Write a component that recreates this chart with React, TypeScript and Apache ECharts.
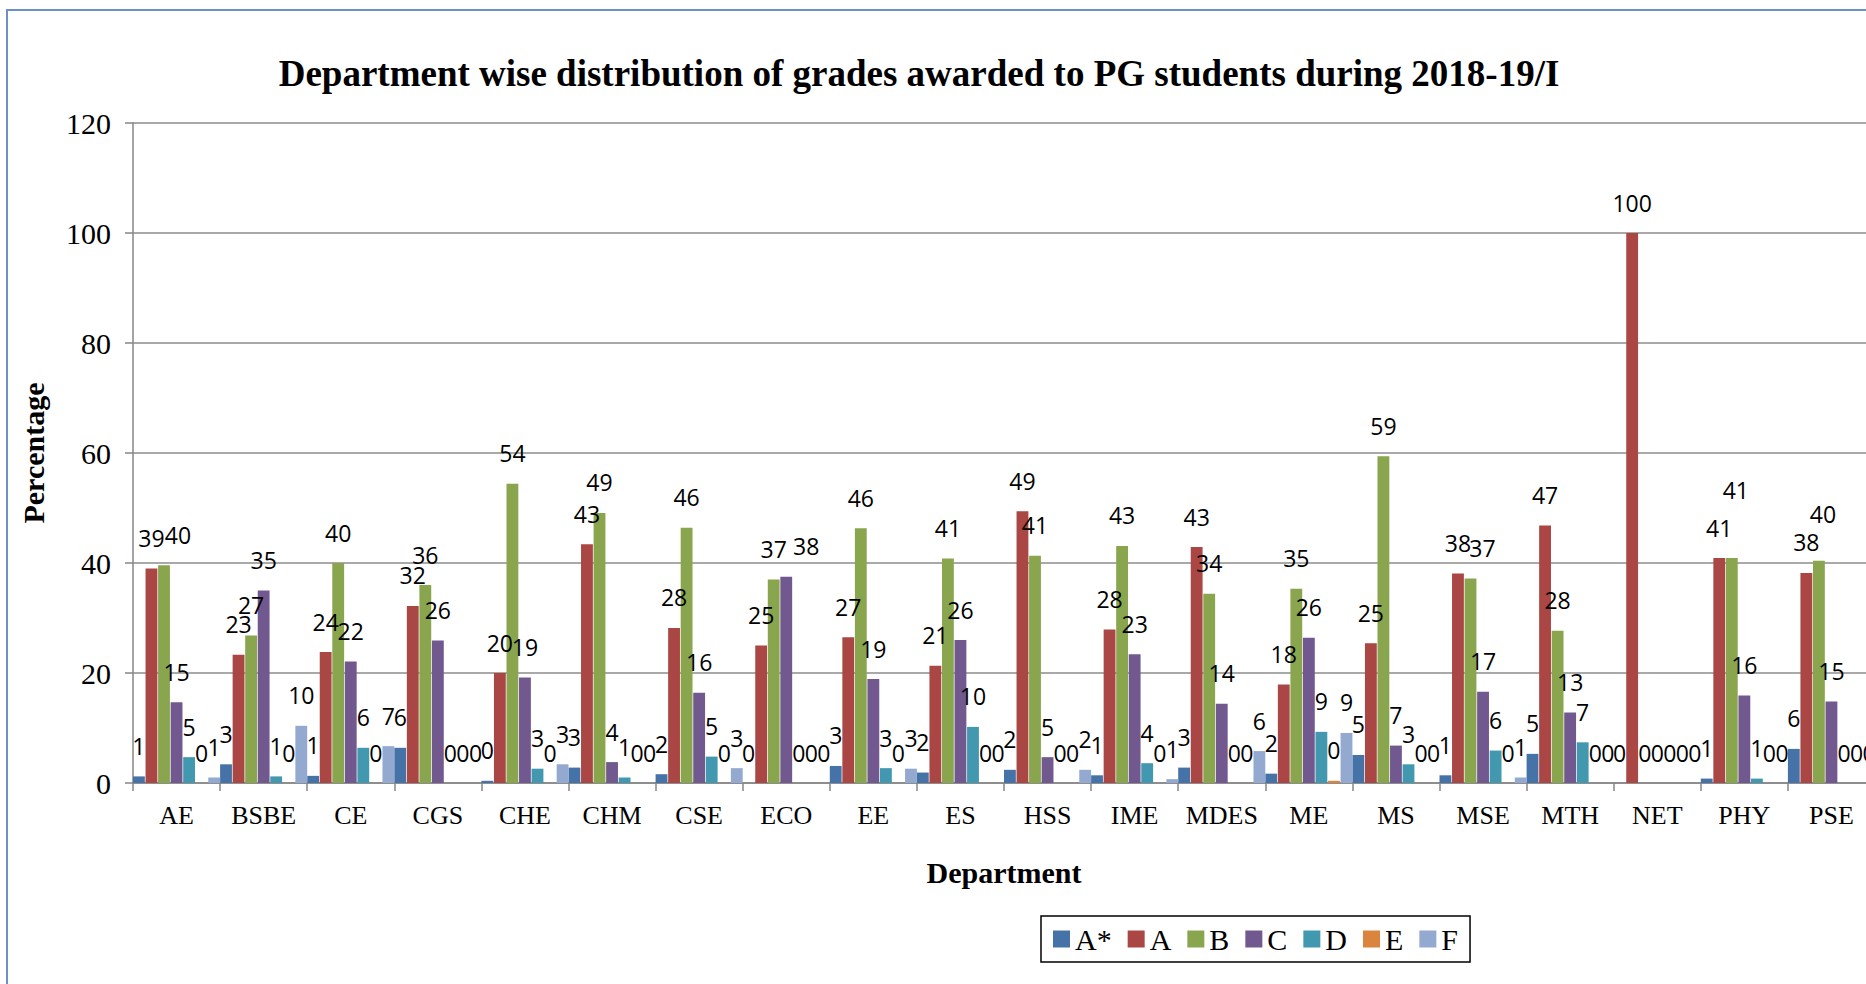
import React, { useEffect, useRef } from "react";
import * as echarts from "echarts";

const departments = ["AE", "BSBE", "CE", "CGS", "CHE", "CHM", "CSE", "ECO", "EE", "ES", "HSS", "IME", "MDES", "ME", "MS", "MSE", "MTH", "NET", "PHY", "PSE"];
const gradeNames = ["A*", "A", "B", "C", "D", "E", "F"];
const gradeAStar = [1.2, 3.4, 1.3, 6.4, 0.4, 2.8, 1.6, 0, 3.1, 1.9, 2.4, 1.4, 2.8, 1.7, 5.1, 1.4, 5.3, 0, 0.8, 6.2];
const gradeA = [39.0, 23.3, 23.8, 32.2, 20.0, 43.4, 28.2, 25.0, 26.5, 21.3, 49.4, 27.9, 42.9, 17.9, 25.4, 38.1, 46.8, 100, 40.9, 38.2];
const gradeB = [39.6, 26.8, 40.0, 36.0, 54.4, 49.1, 46.4, 37.0, 46.3, 40.8, 41.3, 43.1, 34.4, 35.3, 59.4, 37.2, 27.7, 0, 40.9, 40.4];
const gradeC = [14.7, 35.0, 22.1, 25.9, 19.2, 3.8, 16.4, 37.5, 18.9, 26.0, 4.7, 23.4, 14.4, 26.4, 6.8, 16.6, 12.8, 0, 15.9, 14.8];
const gradeD = [4.7, 1.2, 6.4, 0, 2.6, 1.0, 4.8, 0, 2.7, 10.2, 0, 3.6, 0, 9.3, 3.4, 5.9, 7.4, 0, 0.8, 0];
const gradeE = [0, 0, 0, 0, 0, 0, 0, 0, 0, 0, 0, 0, 0, 0.4, 0, 0, 0, 0, 0, 0];
const gradeF = [1.0, 10.4, 6.7, 0, 3.4, 0, 2.7, 0, 2.6, 0, 2.4, 0.7, 5.8, 9.1, 0, 1.0, 0, 0, 0, 0];
const yTicks = { min: 0, max: 120, interval: 20 };

const colors = ["#4572A7", "#AA4643", "#89A54E", "#71588F", "#4198AF", "#DB843D", "#93A9CF"];
const serif = "'Liberation Serif', 'Times New Roman', serif";
const sans = "'Open Sans', 'Noto Sans', sans-serif";

// label nudges that mimic the reference's label collision handling
const labelShifts = [
  { grade: "B", dept: "AE", dx: 14, dy: 0 },
  { grade: "C", dept: "ECO", dx: 20, dy: 0 },
  { grade: "B", dept: "MSE", dx: 12, dy: 0 },
  { grade: "B", dept: "PHY", dx: 4, dy: -38 },
  { grade: "B", dept: "PSE", dx: 4, dy: -16 },
];

export default function App() {
  const ref = useRef<HTMLDivElement>(null);
  useEffect(() => {
    const chart = echarts.init(ref.current!, null, { renderer: "svg" });
    const allData = [gradeAStar, gradeA, gradeB, gradeC, gradeD, gradeE, gradeF];
    chart.setOption({
      animation: false,
      color: colors,
      title: {
        text: "Department wise distribution of grades awarded to PG students during 2018-19/I",
        left: 914,
        textAlign: "center",
        top: 50,
        textStyle: { fontFamily: serif, fontWeight: "bold", fontSize: 37, color: "#000" },
      },
      graphic: [
        {
          type: "rect",
          shape: { x: 7, y: 10, width: 1900, height: 1000 },
          style: { fill: "none", stroke: "#6F8FCB", lineWidth: 2 },
          silent: true,
        },
      ],
      legend: {
        left: 1041,
        top: 916,
        orient: "horizontal",
        icon: "rect",
        itemWidth: 17,
        itemHeight: 17,
        itemGap: 16,
        padding: [8, 12],
        borderColor: "#000",
        borderWidth: 1.5,
        textStyle: { fontFamily: serif, fontSize: 30, color: "#000" },
        data: gradeNames,
      },
      grid: { left: 133, top: 123, bottom: 201, right: -9, containLabel: false, outerBoundsMode: "none" },
      xAxis: {
        type: "category",
        data: departments,
        name: "Department",
        nameLocation: "middle",
        nameGap: 74,
        nameTextStyle: { fontFamily: serif, fontWeight: "bold", fontSize: 30, color: "#000" },
        axisLine: { lineStyle: { color: "#868686", width: 1.5 } },
        axisTick: { show: true, length: 8, lineStyle: { color: "#868686", width: 1.5 } },
        axisLabel: { fontFamily: serif, fontSize: 26, color: "#000", margin: 19, interval: 0 },
      },
      yAxis: {
        type: "value",
        min: yTicks.min,
        max: yTicks.max,
        interval: yTicks.interval,
        name: "Percentage",
        nameLocation: "middle",
        nameGap: 85,
        nameTextStyle: { fontFamily: serif, fontWeight: "bold", fontSize: 30, color: "#000" },
        axisLine: { show: true, lineStyle: { color: "#868686", width: 1.5 } },
        axisTick: { show: true, length: 8, lineStyle: { color: "#868686", width: 1.5 } },
        axisLabel: { fontFamily: serif, fontSize: 30, color: "#000", margin: 22 },
        splitLine: { show: true, lineStyle: { color: "#8C8C8C", width: 1.5 } },
      },
      series: gradeNames.map((name, i) => ({
        type: "bar",
        name,
        data: allData[i].map((v, j) => {
          const s = labelShifts.find((o) => o.grade === name && o.dept === departments[j]);
          return s ? { value: v, label: { offset: [s.dx, s.dy] } } : v;
        }),
        barGap: "6%",
        barCategoryGap: "0%",
        label: {
          show: true,
          position: "top",
          distance: 22,
          fontFamily: sans,
          fontSize: 23,
          lineHeight: 17,
          color: "#000",
          formatter: (p: any) => String(Math.round(p.value)),
        },
      })),
    });
    return () => chart.dispose();
  }, []);
  return (
    <div
      ref={ref}
      style={{ position: "fixed", left: 0, top: 0, width: 1866, height: 984, background: "#fff" }}
    />
  );
}
